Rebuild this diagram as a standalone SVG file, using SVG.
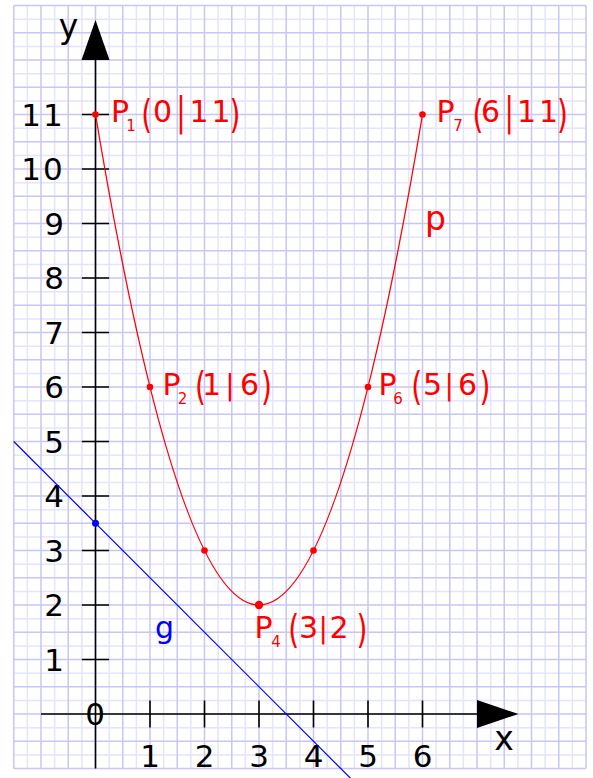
<svg xmlns="http://www.w3.org/2000/svg" width="593" height="778" viewBox="0 0 593 778">
<style>
.gl{stroke:#e4e4fc;stroke-width:1.5;fill:none}
.gd{stroke:#c6c6f8;stroke-width:1.5;fill:none}
.ax{stroke:#000;stroke-width:1.6;fill:none}
text{font-family:"DejaVu Sans",Verdana,sans-serif}
.num{font-size:31px;fill:#000;text-anchor:middle}
.let{font-size:33px;text-anchor:middle}
.lab{font-size:30px;fill:#f00;text-anchor:middle}
.sub{font-size:15px}
.par{font-size:28px;fill:#f00;text-anchor:middle}
.ls{letter-spacing:3px}
.ls2{letter-spacing:2px}
</style>
<rect width="593" height="778" fill="#fff"/>
<g id="grid">
<path class="gl" d="M27.375 5.5V768.5M54.625 5.5V768.5M81.875 5.5V768.5M109.125 5.5V768.5M136.375 5.5V768.5M163.625 5.5V768.5M190.875 5.5V768.5M218.125 5.5V768.5M245.375 5.5V768.5M272.625 5.5V768.5M299.875 5.5V768.5M327.125 5.5V768.5M354.375 5.5V768.5M381.625 5.5V768.5M408.875 5.5V768.5M436.125 5.5V768.5M463.375 5.5V768.5M490.625 5.5V768.5M517.875 5.5V768.5M545.125 5.5V768.5M572.375 5.5V768.5M13.75 754.875H586M13.75 727.625H586M13.75 700.375H586M13.75 673.125H586M13.75 645.875H586M13.75 618.625H586M13.75 591.375H586M13.75 564.125H586M13.75 536.875H586M13.75 509.625H586M13.75 482.375H586M13.75 455.125H586M13.75 427.875H586M13.75 400.625H586M13.75 373.375H586M13.75 346.125H586M13.75 318.875H586M13.75 291.625H586M13.75 264.375H586M13.75 237.125H586M13.75 209.875H586M13.75 182.625H586M13.75 155.375H586M13.75 128.125H586M13.75 100.875H586M13.75 73.625H586M13.75 46.375H586M13.75 19.125H586"/>
<path class="gd" d="M13.75 5.5V768.5M41 5.5V768.5M68.25 5.5V768.5M95.5 5.5V768.5M122.75 5.5V768.5M150 5.5V768.5M177.25 5.5V768.5M204.5 5.5V768.5M231.75 5.5V768.5M259 5.5V768.5M286.25 5.5V768.5M313.5 5.5V768.5M340.75 5.5V768.5M368 5.5V768.5M395.25 5.5V768.5M422.5 5.5V768.5M449.75 5.5V768.5M477 5.5V768.5M504.25 5.5V768.5M531.5 5.5V768.5M558.75 5.5V768.5M586 5.5V768.5M13.75 768.5H586M13.75 741.25H586M13.75 714H586M13.75 686.75H586M13.75 659.5H586M13.75 632.25H586M13.75 605H586M13.75 577.75H586M13.75 550.5H586M13.75 523.25H586M13.75 496H586M13.75 468.75H586M13.75 441.5H586M13.75 414.25H586M13.75 387H586M13.75 359.75H586M13.75 332.5H586M13.75 305.25H586M13.75 278H586M13.75 250.75H586M13.75 223.5H586M13.75 196.25H586M13.75 169H586M13.75 141.75H586M13.75 114.5H586M13.75 87.25H586M13.75 60H586M13.75 32.75H586M13.75 5.5H586"/>
</g>
<g id="axes">
<path class="ax" d="M95.5 768.5V58M41 714H479"/>
<polygon points="95.5,20 81.5,60 109.5,60" fill="#000"/>
<polygon points="518.5,714 477,700 477,728" fill="#000"/>
<path class="ax" d="M81.9 659.5H109.1M81.9 605H109.1M81.9 550.5H109.1M81.9 496H109.1M81.9 441.5H109.1M81.9 387H109.1M81.9 332.5H109.1M81.9 278H109.1M81.9 223.5H109.1M81.9 169H109.1M81.9 114.5H109.1M150 700.4V727.6M204.5 700.4V727.6M259 700.4V727.6M313.5 700.4V727.6M368 700.4V727.6M422.5 700.4V727.6"/>
<text class="let" x="68.5" y="38" fill="#000">y</text>
<text class="let" x="504" y="750" fill="#000">x</text>
<text class="num" x="95" y="725">0</text>
<text class="num" x="54" y="670.5">1</text>
<text class="num" x="54" y="616">2</text>
<text class="num" x="54" y="561.5">3</text>
<text class="num" x="54" y="507">4</text>
<text class="num" x="54" y="452.5">5</text>
<text class="num" x="54" y="398">6</text>
<text class="num" x="54" y="343.5">7</text>
<text class="num" x="54" y="289">8</text>
<text class="num" x="54" y="234.5">9</text>
<text class="num ls2" x="43" y="180">10</text>
<text class="num ls2" x="43" y="125.5">11</text>
<text class="num" x="150" y="767">1</text>
<text class="num" x="204.5" y="767">2</text>
<text class="num" x="259" y="767">3</text>
<text class="num" x="313.5" y="767">4</text>
<text class="num" x="368" y="767">5</text>
<text class="num" x="422.5" y="767">6</text>
</g>
<g id="connectors">
<path id="g-line" d="M13.75 441.5L352 779.75" stroke="#00f" stroke-width="1.2" fill="none"/>
<path id="p-curve" d="M95.5 114.5Q259 1095.5 422.5 114.5" stroke="#f00" stroke-width="1.3" fill="none"/>
</g>
<g id="label-g"><text class="let" x="164.5" y="638" fill="#00f" style="font-size:30px">g</text></g>
<g id="label-p"><text class="let" x="435.5" y="229.5" fill="#f00">p</text></g>
<g id="point-g"><circle cx="95.5" cy="523.25" r="3.5" fill="#00f"/></g>
<g id="point-2-3"><circle cx="204.5" cy="550.5" r="3.3" fill="#f00"/></g>
<g id="point-4-3"><circle cx="313.5" cy="550.5" r="3.3" fill="#f00"/></g>
<g id="P1">
<circle cx="95.5" cy="114.5" r="3.3" fill="#f00"/>
<text class="lab"><tspan x="120" y="122">P</tspan><tspan class="sub" x="131" y="131">1</tspan><tspan x="162.5" y="122">0</tspan><tspan class="ls" x="211.5" y="122">11</tspan></text>
<text class="par" transform="translate(146.7 127.5) scale(1 1.38)">(</text>
<text class="par" transform="translate(181 125) scale(1 1.42)">|</text>
<text class="par" transform="translate(235 127.5) scale(1 1.38)">)</text>
</g>
<g id="P2">
<circle cx="150" cy="387" r="3.3" fill="#f00"/>
<text class="lab"><tspan x="171.5" y="394.5">P</tspan><tspan class="sub" x="182.5" y="403.5">2</tspan><tspan x="211.5" y="394.5">1</tspan><tspan x="249.5" y="394.5">6</tspan></text>
<text class="par" transform="translate(200.5 400) scale(1 1.38)">(</text>
<text class="par" x="230" y="394.5">|</text>
<text class="par" transform="translate(266.5 400) scale(1 1.38)">)</text>
</g>
<g id="P4">
<circle cx="259" cy="605" r="4.2" fill="#f00"/>
<text class="lab"><tspan x="263.5" y="637.5">P</tspan><tspan class="sub" x="276" y="646.5">4</tspan><tspan x="308.5" y="637.5">3</tspan><tspan x="339" y="637.5">2</tspan></text>
<text class="par" transform="translate(293.7 643) scale(1 1.38)">(</text>
<text class="par" x="323.3" y="637.5">|</text>
<text class="par" transform="translate(362 643) scale(1 1.38)">)</text>
</g>
<g id="P6">
<circle cx="368" cy="387" r="3.3" fill="#f00"/>
<text class="lab"><tspan x="387.5" y="394.5">P</tspan><tspan class="sub" x="398" y="403.5">6</tspan><tspan x="432.5" y="394.5">5</tspan><tspan x="467.5" y="394.5">6</tspan></text>
<text class="par" transform="translate(416.7 400) scale(1 1.38)">(</text>
<text class="par" x="449.3" y="394.5">|</text>
<text class="par" transform="translate(485 400) scale(1 1.38)">)</text>
</g>
<g id="P7">
<circle cx="422.5" cy="114.5" r="3.3" fill="#f00"/>
<text class="lab"><tspan x="445.5" y="122">P</tspan><tspan class="sub" x="458" y="131">7</tspan><tspan x="490.5" y="122">6</tspan><tspan class="ls" x="539" y="122">11</tspan></text>
<text class="par" transform="translate(478 127.5) scale(1 1.38)">(</text>
<text class="par" transform="translate(509.3 125) scale(1 1.42)">|</text>
<text class="par" transform="translate(562.5 127.5) scale(1 1.38)">)</text>
</g>
</svg>
